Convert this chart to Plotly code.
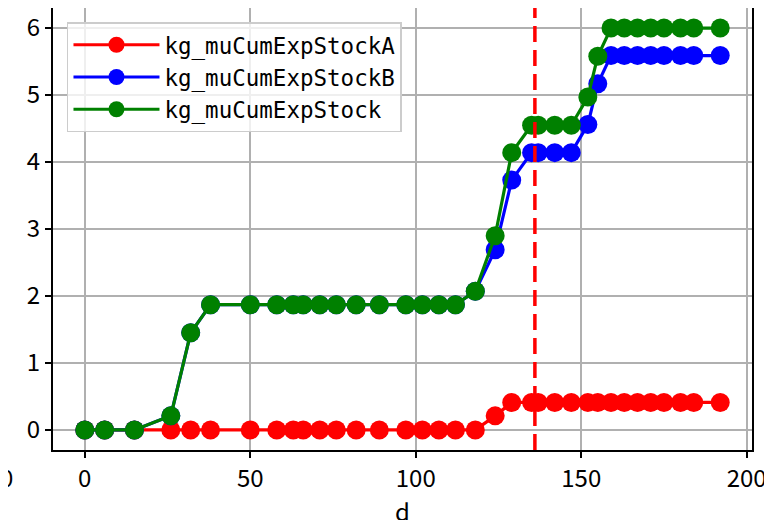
import plotly.graph_objects as go

d = [0, 6, 15, 26, 32, 38, 50, 58, 63, 66, 71, 76, 82, 89, 97, 102, 107, 112, 118,
     124, 129, 135, 137, 142, 147, 152, 155, 159, 163, 167, 171, 175, 180, 184, 192]

stock_a = [0] * 19 + [0.21] + [0.41] * 15
stock_b = ([0, 0, 0, 0.21, 1.45] + [1.87] * 13 + [2.07, 2.69, 3.73]
           + [4.14] * 4 + [4.56, 5.17] + [5.59] * 8)
stock_total = ([0, 0, 0, 0.21, 1.45] + [1.87] * 13 + [2.07, 2.90, 4.14]
               + [4.55] * 4 + [4.97, 5.58] + [6.0] * 8)

cutoff_day = 136

series = [
    ("kg_muCumExpStockA", stock_a, "#ff0000"),
    ("kg_muCumExpStockB", stock_b, "#0000ff"),
    ("kg_muCumExpStock", stock_total, "#008000"),
]

fig = go.Figure()
for name, values, color in series:
    fig.add_trace(go.Scatter(
        x=d, y=values, name=name, mode="lines+markers",
        line=dict(color=color, width=3.2),
        marker=dict(color=color, size=19),
    ))

fig.add_shape(type="line", x0=cutoff_day, x1=cutoff_day, xref="x",
              y0=0, y1=1, yref="paper", layer="above",
              line=dict(color="#ff0000", width=3.5, dash="16px,8px"))

# stray tick label cut off at the left edge in the original
fig.add_annotation(text="0", xref="paper", yref="paper", x=-0.055, y=-0.06,
                   xanchor="right", yanchor="middle", showarrow=False,
                   font=dict(size=24, color="black"))

# x axis title placed by hand (standoff is ignored without automargin)
fig.add_annotation(text="d", xref="paper", yref="paper", x=0.5, y=-0.138,
                   xanchor="center", yanchor="middle", showarrow=False,
                   font=dict(size=24, color="black"))

axis_common = dict(
    showline=True, linecolor="black", linewidth=2, mirror=True,
    showgrid=True, gridcolor="#b0b0b0", gridwidth=1.6,
    ticks="outside", ticklen=6, tickwidth=2, tickcolor="black",
    zeroline=False, tickfont=dict(size=24, color="black"),
    automargin=False,
)

fig.update_xaxes(range=[-9.6, 201.6], tickvals=[0, 50, 100, 150, 200], **axis_common)
fig.update_yaxes(range=[-0.3, 6.3], tickvals=[0, 1, 2, 3, 4, 5, 6], **axis_common)

# page body adds an 8px offset, so the figure is a little smaller than the window
fig.update_layout(
    width=764, height=512,
    margin=dict(l=45, r=20, t=0, b=70),
    plot_bgcolor="white", paper_bgcolor="white",
    font=dict(family="Noto Sans CJK JP, sans-serif", color="black"),
    showlegend=True,
    legend=dict(
        x=0.02, y=0.968, xanchor="left", yanchor="top",
        bgcolor="rgba(255,255,255,0.8)", bordercolor="#cccccc", borderwidth=1.5,
        font=dict(family="DejaVu Sans Mono", size=22.5, color="black"),
        itemwidth=86, tracegroupgap=0,
    ),
)

fig.write_html("out.html")
